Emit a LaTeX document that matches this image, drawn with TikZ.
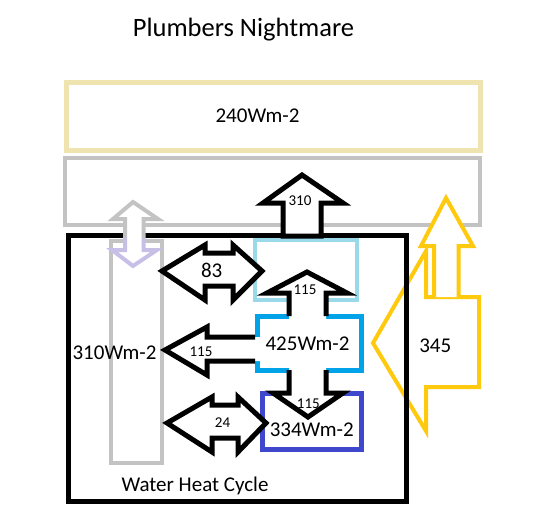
\documentclass[tikz,border=0pt]{standalone}
\usepackage{fontspec}
\setmainfont{Carlito}
\definecolor{pmtan}{RGB}{239,228,176}
\definecolor{pmgrey}{RGB}{195,195,195}
\definecolor{pmpale}{RGB}{153,217,234}
\definecolor{pmblue}{RGB}{0,162,232}
\definecolor{pmindigo}{RGB}{63,72,204}
\definecolor{pmgold}{RGB}{255,201,14}
\definecolor{pmlavender}{RGB}{200,191,231}
\usetikzlibrary{positioning}

\begin{document}
\begin{tikzpicture}[x=1pt, y=-1pt,
    panel/.style={rectangle, line width=4pt, inner sep=0pt},
    bigtext/.style={anchor=base, inner sep=0pt, font=\fontsize{21}{25}\selectfont},
    smalltext/.style={anchor=base, inner sep=0pt, font=\fontsize{15}{18}\selectfont},
    blockfill/.style={fill=white, draw=none},
    blockline/.style={draw=black, line width=5pt}
]
    \useasboundingbox (0,0) rectangle (533,532);

    % sun and atmosphere
    \node[panel, draw=pmtan, line width=5pt, minimum width=414.5pt, minimum height=68pt] (sun) at (273.25,116.5) {};
    \node[panel, draw=pmgrey, minimum width=414.5pt, minimum height=67pt] (sky) at (272.25,191.5) {};

    % back radiation 345
    \filldraw[pmgold, fill=white, line width=4pt] (373,343) -- (426,251) -- (426,297) -- (479,297)
        -- (479,387) -- (426,387) -- (426,431) -- cycle;
    \fill[white] (434,297) -- (434,246) -- (421,246) -- (446,198) -- (473,246) -- (458.5,246) -- (458.5,297) -- cycle;
    \draw[pmgold, line width=4pt] (434,297) -- (434,246) -- (421,246) -- (446,198) -- (473,246)
        -- (458.5,246) -- (458.5,297);

    % water heat cycle and stores
    \node[panel, draw=black, line width=5pt, minimum width=338pt, minimum height=266pt] (cycle) at (237,368) {};
    \node[panel, draw=pmgrey, minimum width=51pt, minimum height=222pt] (column) at (136.5,352) {};
    \node[panel, draw=pmpale, minimum width=102pt, minimum height=60pt] (cloud) at (306,270) {};
    \node[panel, draw=pmblue, line width=5pt, minimum width=104pt, minimum height=54pt] (ocean) at (309,343) {};
    \node[panel, draw=pmindigo, line width=5pt, minimum width=99pt, minimum height=56pt] (deep) at (311.5,421) {};

    % 310 up to the atmosphere
    \filldraw[blockline, fill=white] (302,175) -- (343,203) -- (321,203) -- (321,236) -- (283,236)
        -- (283,203) -- (263,203) -- cycle;

    % 83 and 24 exchanges
    \filldraw[blockline, fill=white] (162,271) -- (205,245) -- (205,253) -- (233,253) -- (233,245) -- (262,271)
        -- (233,300) -- (233,286) -- (205,286) -- (205,300) -- cycle;
    \filldraw[blockline, fill=white] (167,423) -- (212,397) -- (212,405) -- (238,405) -- (238,397) -- (266,423)
        -- (238,452) -- (238,438) -- (212,438) -- (212,452) -- cycle;

    % 115 up and down through the ocean
    \fill[blockfill] (307,272) -- (347,293) -- (326,293) -- (326,393) -- (343,393) -- (308,417)
        -- (273,393) -- (289,393) -- (289,293) -- (267,293) -- cycle;
    \draw[blockline] (289,316) -- (289,293) -- (267,293) -- (307,272) -- (347,293) -- (326,293) -- (326,316);
    \draw[blockline] (289,370) -- (289,393) -- (273,393) -- (308,417) -- (343,393) -- (326,393) -- (326,370);

    % 115 to the left
    \fill[blockfill] (260,337) -- (207,337) -- (207,327) -- (165,350) -- (207,375) -- (207,361) -- (260,361) -- cycle;
    \draw[blockline] (255,337) -- (207,337) -- (207,327) -- (165,350) -- (207,375) -- (207,361) -- (255,361);

    % column exchange with the atmosphere
    \fill[blockfill] (133,202) -- (158,219) -- (143.5,219) -- (143.5,250) -- (157,250) -- (133,266)
        -- (112,250) -- (125,250) -- (125,219) -- (113,219) -- cycle;
    \draw[pmgrey, line width=4pt] (125,238) -- (125,219) -- (113,219) -- (133,202) -- (158,219)
        -- (143.5,219) -- (143.5,238);
    \draw[pmlavender, line width=4pt] (125,238) -- (125,250) -- (112,250) -- (133,266) -- (157,250)
        -- (143.5,250) -- (143.5,238);

    % texts
    \node[anchor=base, inner sep=0pt, font=\fontsize{26.5}{30}\selectfont] (title) at (243.5,37) {Plumbers Nightmare};
    \node[bigtext] (sunlabel) at (257.5,123) {240Wm-2};
    \node[bigtext] (columnlabel) at (114.5,359) {310Wm-2};
    \node[bigtext] (oceanlabel) at (307.5,350) {425Wm-2};
    \node[bigtext] (deeplabel) at (311.7,436) {334Wm-2};
    \node[bigtext] (cyclelabel) at (195,491) {Water Heat Cycle};
    \node[bigtext] (backlabel) at (435.3,352) {345};
    \node[bigtext] (latentlabel) at (211.7,277) {83};
    \node[smalltext] (uplabel) at (300,205) {310};
    \node[smalltext] (risinglabel) at (305,294) {115};
    \node[smalltext] (leftlabel) at (201,356) {115};
    \node[smalltext] (sinkinglabel) at (308.3,408) {115};
    \node[smalltext] (mixlabel) at (222.5,427) {24};
\end{tikzpicture}
\end{document}
